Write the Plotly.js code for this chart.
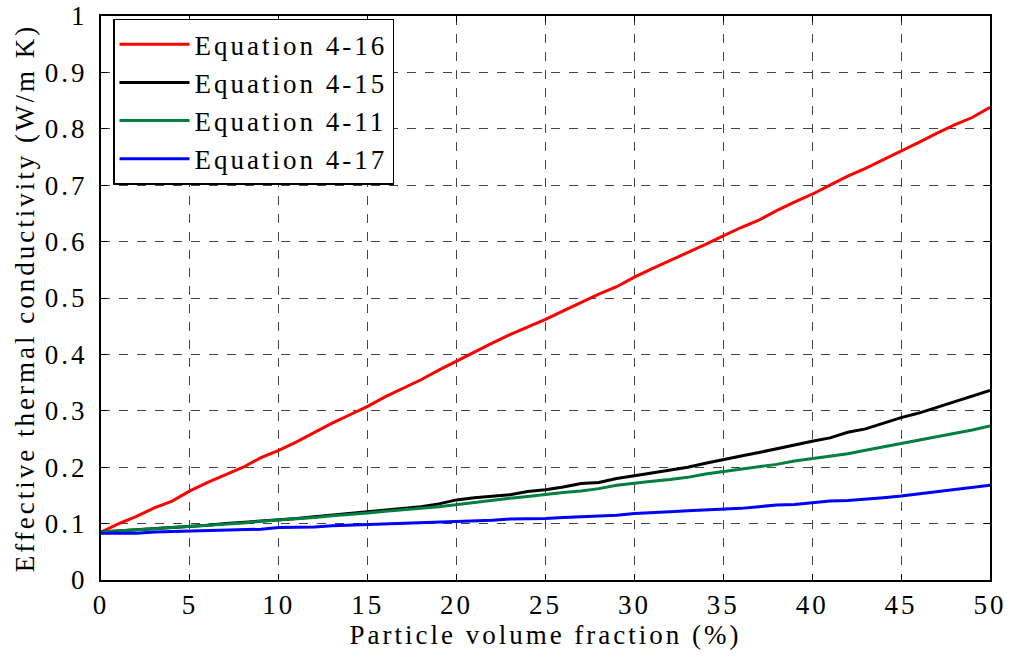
<!DOCTYPE html>
<html>
<head>
<meta charset="utf-8">
<script src="https://cdn.plot.ly/plotly-3.0.1.min.js"></script>
<style>
html,body{margin:0;padding:0;background:#fff}
#chart{width:1011px;height:663px}
svg text {letter-spacing:3px}
</style>
</head>
<body>
<div id="chart"></div>
<script>
const fraction = [0,1,2,3,4,5,6,7,8,9,10,11,12,13,14,15,16,17,18,19,20,21,22,23,24,25,26,27,28,29,30,31,32,33,34,35,36,37,38,39,40,41,42,43,44,45,46,47,48,49,50];
const eq416 = [0.085,0.100,0.113,0.128,0.140,0.158,0.173,0.186,0.200,0.217,0.230,0.245,0.262,0.278,0.293,0.308,0.325,0.340,0.355,0.372,0.388,0.405,0.420,0.435,0.448,0.462,0.477,0.492,0.507,0.520,0.537,0.552,0.566,0.580,0.595,0.610,0.625,0.638,0.655,0.670,0.684,0.700,0.716,0.730,0.745,0.760,0.776,0.792,0.807,0.820,0.838];
const eq415 = [0.085,0.087,0.088,0.090,0.092,0.094,0.097,0.100,0.102,0.105,0.107,0.109,0.112,0.115,0.118,0.120,0.124,0.127,0.130,0.135,0.142,0.146,0.149,0.151,0.157,0.160,0.165,0.171,0.173,0.180,0.185,0.190,0.196,0.200,0.207,0.214,0.220,0.226,0.233,0.240,0.246,0.252,0.262,0.268,0.278,0.288,0.296,0.306,0.315,0.325,0.336];
const eq411 = [0.085,0.087,0.088,0.090,0.092,0.094,0.096,0.099,0.101,0.104,0.106,0.108,0.111,0.114,0.116,0.119,0.122,0.124,0.127,0.130,0.134,0.137,0.141,0.145,0.148,0.152,0.155,0.158,0.162,0.168,0.172,0.175,0.178,0.182,0.188,0.192,0.196,0.201,0.205,0.211,0.215,0.220,0.224,0.230,0.236,0.242,0.247,0.253,0.260,0.266,0.273];
const eq417 = [0.083,0.083,0.083,0.085,0.086,0.086,0.088,0.089,0.089,0.090,0.093,0.093,0.094,0.096,0.097,0.098,0.100,0.100,0.102,0.103,0.103,0.105,0.106,0.108,0.108,0.109,0.111,0.112,0.114,0.115,0.118,0.119,0.121,0.123,0.124,0.126,0.127,0.130,0.133,0.134,0.137,0.140,0.141,0.143,0.146,0.149,0.153,0.156,0.160,0.164,0.168];
const seriesNames = ['Equation 4-16','Equation 4-15','Equation 4-11','Equation 4-17'];
const seriesColors = ['#ff0000','#000000','#007f3f','#0000ff'];
const seriesData = [eq416, eq415, eq411, eq417];
const xTicks = [0,5,10,15,20,25,30,35,40,45,50];
const yTicks = [0,0.1,0.2,0.3,0.4,0.5,0.6,0.7,0.8,0.9,1];
const yTickText = ['0','0.1','0.2','0.3','0.4','0.5','0.6','0.7','0.8','0.9','1'];

const traces = seriesData.map((d,i)=>({
  x: fraction, y: d, type:'scatter', mode:'lines', name: seriesNames[i],
  line:{color: seriesColors[i], width:3}
}));

const fontFam = 'Liberation Serif, Times New Roman, DejaVu Serif, serif';
const layout = {
  width:1011, height:663,
  margin:{l:101, r:21, t:16, b:83},
  paper_bgcolor:'#fff', plot_bgcolor:'#fff',
  font:{family:fontFam, color:'#000', size:27},
  showlegend:true,
  legend:{x:0.0135, y:0.995, xanchor:'left', yanchor:'top', bgcolor:'#fff',
    bordercolor:'#000', borderwidth:1.5, font:{size:27, family:fontFam}, itemwidth:70,
    tracegroupgap:0},
  xaxis:{range:[0,50], tickvals:xTicks, ticktext:xTicks.map(String), ticks:'inside', ticklen:6,
    tickcolor:'#000', showline:true, linecolor:'#000', linewidth:2, mirror:'ticks',
    showgrid:true, gridcolor:'#444', griddash:'dash', gridwidth:1, zeroline:false,
    tickfont:{size:27, family:fontFam}, title:{text:'Particle volume fraction (%)', font:{size:27, family:fontFam}, standoff:6}},
  yaxis:{range:[0,1], tickvals:yTicks, ticktext:yTickText, ticks:'inside', ticklen:6,
    tickcolor:'#000', showline:true, linecolor:'#000', linewidth:2, mirror:'ticks',
    showgrid:true, gridcolor:'#444', griddash:'dash', gridwidth:1, zeroline:false,
    ticklabelstandoff:6,
    tickfont:{size:27, family:fontFam}, title:{text:'Effective thermal conductivity (W/m K)', font:{size:27, family:fontFam}, standoff:2}}
};
Plotly.newPlot('chart', traces, layout, {displayModeBar:false, staticPlot:true});
</script>
</body>
</html>
